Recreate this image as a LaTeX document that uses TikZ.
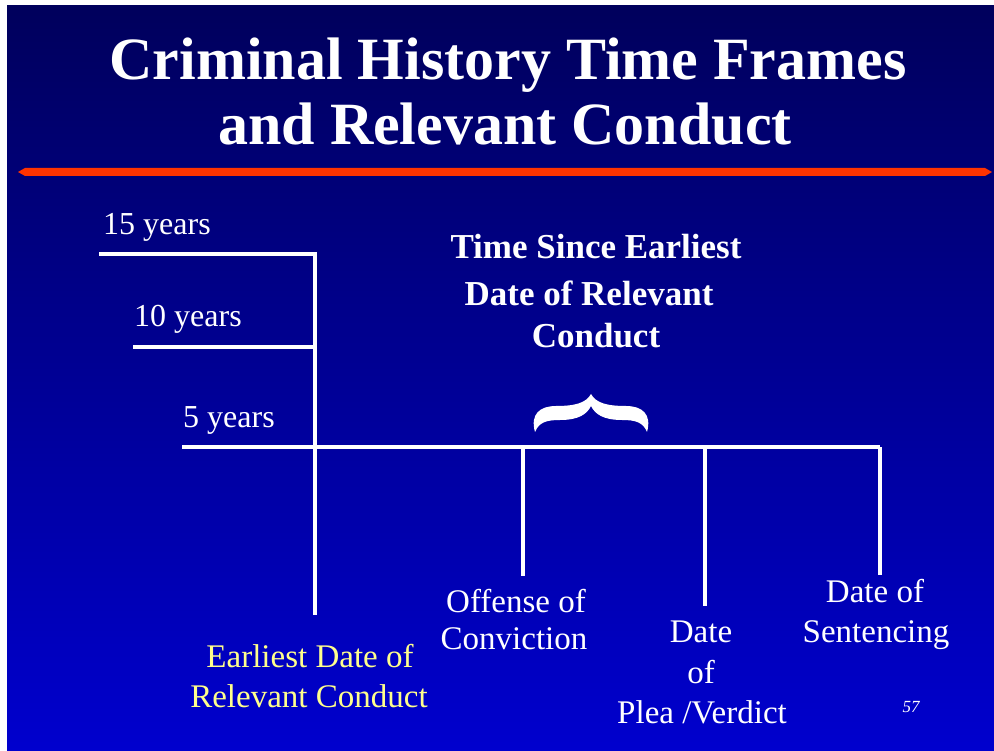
\documentclass[tikz,border=0pt]{standalone}
\usepackage{fontspec}
\setmainfont{Liberation Serif}
\definecolor{bgtop}{RGB}{0,0,92}
\definecolor{bgbot}{RGB}{0,0,206}
\definecolor{redbar}{RGB}{255,51,0}
\definecolor{paleyellow}{RGB}{255,255,140}
\tikzset{
  tline/.style={white, line width=3.5pt},
  lbl/.style={text=white, anchor=base, inner sep=0pt, font=\fontsize{33}{33}\selectfont},
  ylbl/.style={lbl, text=paleyellow},
  yrs/.style={text=white, anchor=base west, inner sep=0pt, font=\fontsize{32}{32}\selectfont},
  ttl/.style={text=white, anchor=base, inner sep=0pt, font=\fontsize{60}{60}\selectfont\bfseries},
  hdr/.style={text=white, anchor=base, inner sep=0pt, font=\fontsize{35}{35}\selectfont\bfseries}
}
\begin{document}
\begin{tikzpicture}[x=1pt,y=-1pt]
\useasboundingbox (0,0) rectangle (994,751);
\fill[white] (0,0) rectangle (994,751);
\shade[top color=bgtop, bottom color=bgbot] (7,6) rectangle (994,751);
% red bar
\fill[redbar] (18,172) -- (25,168) -- (985,168) -- (992,172) -- (985,176) -- (25,176) -- cycle;
% title
\node[ttl] (t1) at (508,80) {Criminal History Time Frames};
\node[ttl] (t2) at (505,145) {and Relevant Conduct};
% coordinates
\coordinate (y15) at (99,254);
\coordinate (c15) at (315,254);
\coordinate (y10) at (133,347);
\coordinate (c10) at (315,347);
\coordinate (y5) at (182,447);
\coordinate (c5) at (315,447);
\coordinate (vbot) at (315,615);
\coordinate (o5) at (523,447);
\coordinate (obot) at (523,576);
\coordinate (p5) at (705,447);
\coordinate (pbot) at (705,606);
\coordinate (s5) at (880,447);
\coordinate (sbot) at (880,575);
% lines
\draw[tline] (y15) -- (c15) -- (vbot);
\draw[tline] (y10) -- (c10);
\draw[tline] (y5) -- (s5);
\draw[tline] (o5) -- (obot);
\draw[tline] (p5) -- (pbot);
\draw[tline] (s5) -- (sbot);
% year labels
\node[yrs] (l15) at (103,235) {15 years};
\node[yrs] (l10) at (134,327) {10 years};
\node[yrs] (l5) at (183,428) {5 years};
% header
\node[hdr] (h1) at (596,259) {Time Since Earliest};
\node[hdr] (h2) at (589,306) {Date of Relevant};
\node[hdr] (h3) at (596,348) {Conduct};
% brace
\fill[white] (535,432) .. controls (530,414) and (540,406) .. (556,406)
  .. controls (575,406) and (586,403) .. (591,394)
  .. controls (596,403) and (607,406) .. (626,406)
  .. controls (642,406) and (652,414) .. (647,432)
  .. controls (643,422) and (635,420) .. (622,420)
  .. controls (603,420) and (595,414) .. (591,406)
  .. controls (587,414) and (579,420) .. (560,420)
  .. controls (547,420) and (539,422) .. (535,432) -- cycle;
% bottom labels
\node[ylbl] (e1) at (310,667) {Earliest Date of};
\node[ylbl] (e2) at (309,707) {Relevant Conduct};
\node[lbl] (o1) at (516,612) {Offense of};
\node[lbl] (o2) at (514,649) {Conviction};
\node[lbl] (d1) at (701,642) {Date};
\node[lbl] (d2) at (701,683) {of};
\node[lbl] (d3) at (702,723) {Plea /Verdict};
\node[lbl] (s1) at (875,602) {Date of};
\node[lbl] (s2) at (876,642) {Sentencing};
\node[text=white, anchor=base, inner sep=0pt, font=\fontsize{17}{17}\selectfont\itshape] (pg) at (911,712) {57};
\end{tikzpicture}
\end{document}
